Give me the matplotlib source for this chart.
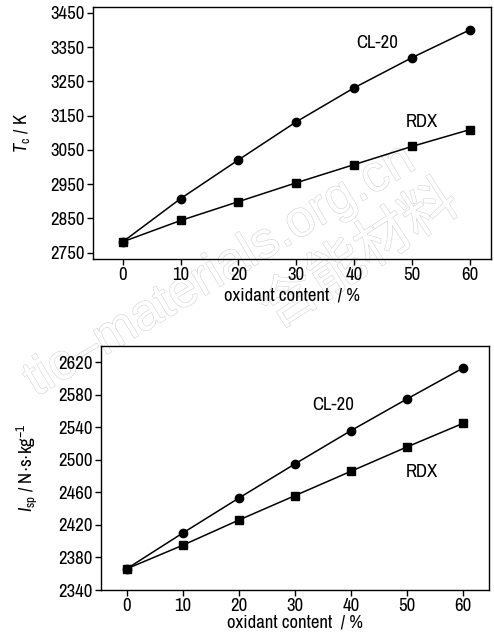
import matplotlib
matplotlib.use('Agg')
from matplotlib import pyplot as plt
import matplotlib.patheffects as pe

plt.rcParams['font.family'] = ['Archivo Narrow', 'Liberation Sans', 'DejaVu Sans']
plt.rcParams['mathtext.fontset'] = 'custom'
plt.rcParams['mathtext.rm'] = 'Archivo Narrow'
plt.rcParams['mathtext.it'] = 'Archivo Narrow:italic'

# oxidant content, %
content = [0, 10, 20, 30, 40, 50, 60]

# combustion temperature Tc / K
tc_cl20 = [2782, 2908, 3021, 3132, 3231, 3319, 3400]
tc_rdx = [2782, 2844, 2899, 2954, 3007, 3060, 3109]

# specific impulse Isp / N s kg-1
isp_cl20 = [2366, 2410, 2453, 2495, 2536, 2575, 2613]
isp_rdx = [2366, 2395, 2426, 2456, 2486, 2516, 2545]

tc_ticks = [2750, 2850, 2950, 3050, 3150, 3250, 3350, 3450]
isp_ticks = [2340, 2380, 2420, 2460, 2500, 2540, 2580, 2620]
x_ticks = [0, 10, 20, 30, 40, 50, 60]

fig = plt.figure(figsize=(4.94, 6.36), dpi=100)
ax1 = fig.add_axes([0.188, 0.593, 0.806, 0.396])
ax2 = fig.add_axes([0.204, 0.0723, 0.786, 0.3837])

# faint watermark behind everything
wm = dict(color='white', zorder=-5,
          path_effects=[pe.withStroke(linewidth=0.8, foreground='#d2d2d2')])
fig.text(0.445, 0.574, 'tic\u2013materials.org.cn', fontsize=37, rotation=31,
         ha='center', va='center', family=['Liberation Sans'], **wm)
fig.text(0.73, 0.598, '含能材料', fontsize=40, rotation=33,
         ha='center', va='center', family=['Noto Sans CJK SC'], **wm)


def style(ax):
    ax.patch.set_alpha(0)
    for s in ax.spines.values():
        s.set_linewidth(1.0)
    ax.tick_params(direction='out', length=4, width=1.0, labelsize=13.5,
                   top=False, right=False, pad=2)
    ax.set_xticks(x_ticks)


ax1.plot(content, tc_cl20, '-o', color='black', lw=1.1, ms=6)
ax1.plot(content, tc_rdx, '-s', color='black', lw=1.1, ms=5.3)
ax1.set_xlim(-5.2, 63.7)
ax1.set_ylim(2732, 3467)
ax1.set_yticks(tc_ticks)
style(ax1)
ax1.set_xlabel('oxidant content  / %', fontsize=13.5, labelpad=3)
ax1.set_ylabel(r'$T_{\rm c}$ / K', fontsize=13.5)
ax1.yaxis.set_label_coords(-0.153, 0.5)
ax1.text(44, 3362, 'CL-20', fontsize=13.5, ha='center', va='center')
ax1.text(51.8, 3132, 'RDX', fontsize=13.5, ha='center', va='center')

ax2.plot(content, isp_cl20, '-o', color='black', lw=1.1, ms=6)
ax2.plot(content, isp_rdx, '-s', color='black', lw=1.1, ms=5.3)
ax2.set_xlim(-4.6, 64.6)
ax2.set_ylim(2340, 2640)
ax2.set_yticks(isp_ticks)
style(ax2)
ax2.set_xlabel('oxidant content  / %', fontsize=13.5, labelpad=0)
ax2.set_ylabel(r'$I_{\rm sp}$ / N$\cdot$s$\cdot$kg$^{-1}$', fontsize=13.5)
ax2.yaxis.set_label_coords(-0.16, 0.5)
ax2.text(36.8, 2567, 'CL-20', fontsize=13.5, ha='center', va='center')
ax2.text(52.6, 2485, 'RDX', fontsize=13.5, ha='center', va='center')

fig.savefig('out.png', dpi=100)
